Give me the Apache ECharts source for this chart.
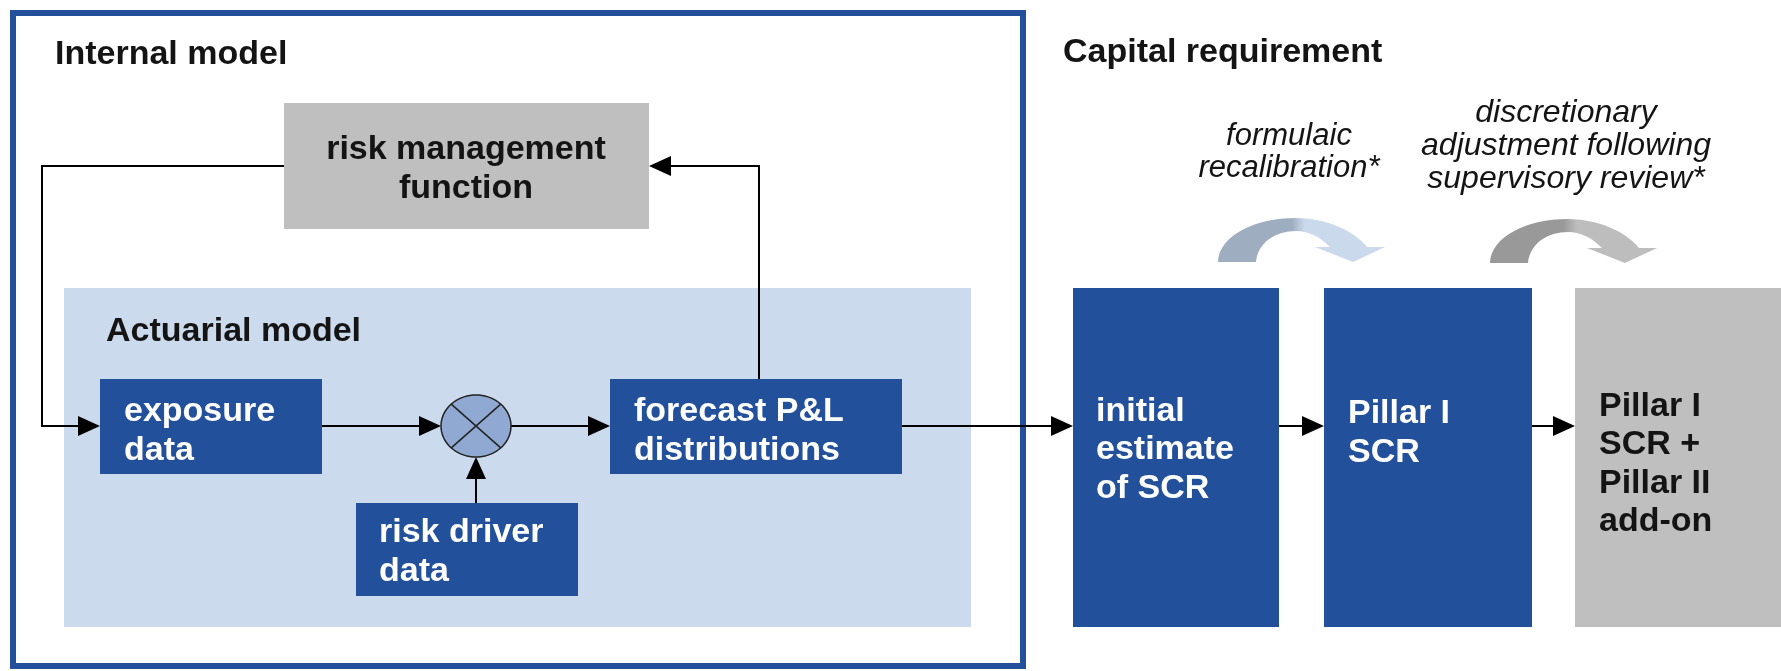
<!DOCTYPE html>
<html>
<head>
<meta charset="utf-8">
<title>Internal model and capital requirement</title>
<script src="https://cdn.jsdelivr.net/npm/echarts@6/dist/echarts.min.js"></script>
<style>
	html, body {margin: 0; padding: 0; background: #fff;}
	#chart {width: 1781px; height: 671px;}
</style>
</head>
<body>
<div id="chart"></div>
<script>
var W = 1781, H = 671;

// 文字与流程
var sectionTitles = ['Internal model', 'Actuarial model', 'Capital requirement'];
var boxIds = ['risk', 'exposure', 'driver', 'forecast', 'initial', 'pillar1', 'addon'];
var boxLabels = ['risk management\nfunction', 'exposure\ndata', 'risk driver\ndata', 'forecast P&L\ndistributions',
	'initial\nestimate\nof SCR', 'Pillar I\nSCR', 'Pillar I\nSCR +\nPillar II\nadd-on'];
var adjustNotes = ['formulaic\nrecalibration*', 'discretionary\nadjustment following\nsupervisory review*'];
var flowFrom = ['risk', 'forecast', 'exposure', 'driver', 'mult', 'forecast', 'initial', 'pillar1'];
var flowTo = ['exposure', 'risk', 'mult', 'mult', 'forecast', 'initial', 'pillar1', 'addon'];

var BLUE = '#22509a', GRAY = '#bfbfbf', LIGHT = '#cbdaed', INK = '#141414';
var FONT = '"Liberation Sans", Arial, Helvetica, sans-serif';

// 版面位置 (像素坐标)
var layout = {
	frame: [13, 13, 1023, 666],
	actuarial: [64, 288, 971, 627],
	titles: [[55, 55], [106, 332], [1063, 53]],
	boxes: {
		risk: [284, 103, 649, 229],
		exposure: [100, 379, 322, 474],
		driver: [356, 503, 578, 596],
		forecast: [610, 379, 902, 474],
		initial: [1073, 288, 1279, 627],
		pillar1: [1324, 288, 1532, 627],
		addon: [1575, 288, 1781, 627]
	},
	boxText: {
		risk: [466, 169, 'center'],
		exposure: [124, 431],
		driver: [379, 552],
		forecast: [634, 431],
		initial: [1096, 450],
		pillar1: [1348, 433],
		addon: [1599, 464]
	},
	mult: [476, 426, 35, 31],
	routes: {
		'risk>exposure': [[284, 166], [42, 166], [42, 426], [100, 426]],
		'forecast>risk': [[759, 379], [759, 166], [649, 166]],
		'exposure>mult': [[322, 426], [441, 426]],
		'driver>mult': [[476, 503], [476, 457]],
		'mult>forecast': [[511, 426], [610, 426]],
		'forecast>initial': [[902, 426], [1073, 426]],
		'initial>pillar1': [[1279, 426], [1324, 426]],
		'pillar1>addon': [[1532, 426], [1575, 426]]
	},
	notes: [[1289, 152, 31], [1566, 146, 32]],
	bends: [[1218, 262], [1490, 263]],
	bendColors: [['#9fadc1', '#cad9ec'], ['#999999', '#bdbdbd']]
};

function rectOf(api, r) {
	var a = api.coord([r[0], r[1]]), b = api.coord([r[2], r[3]]);
	return {x: a[0], y: a[1], width: b[0] - a[0], height: b[1] - a[1]};
}

function renderPanel(params, api) {
	var r = rectOf(api, params.dataIndex === 0 ? layout.frame : layout.actuarial);
	if (params.dataIndex === 0) {
		return {type: 'rect', shape: r, style: {fill: null, stroke: BLUE, lineWidth: 6}};
	}
	return {type: 'rect', shape: r, style: {fill: LIGHT}};
}

function renderBox(params, api) {
	var id = boxIds[params.dataIndex];
	var grayBox = id === 'risk' || id === 'addon';
	var t = layout.boxText[id];
	var p = api.coord([t[0], t[1]]);
	return {
		type: 'group',
		children: [
			{type: 'rect', shape: rectOf(api, layout.boxes[id]), style: {fill: grayBox ? GRAY : BLUE}},
			{type: 'text', x: p[0], y: p[1], style: {
				text: boxLabels[params.dataIndex], fill: grayBox ? INK : '#fff',
				font: 'bold 34px ' + FONT, lineHeight: 38.5,
				align: t[2] || 'left', verticalAlign: 'middle'
			}}
		]
	};
}

function renderMult(params, api) {
	var m = layout.mult, c = api.coord([m[0], m[1]]);
	var pts = [];
	for (var i = 0; i < 72; i++) {
		var a = i / 72 * Math.PI * 2;
		pts.push([c[0] + m[2] * Math.cos(a), c[1] + m[3] * Math.sin(a)]);
	}
	var dx = m[2] * Math.SQRT1_2, dy = m[3] * Math.SQRT1_2;
	return {
		type: 'group',
		children: [
			{type: 'polygon', shape: {points: pts}, style: {fill: '#8fa9d2', stroke: '#222', lineWidth: 1.5}},
			{type: 'line', shape: {x1: c[0] - dx, y1: c[1] - dy, x2: c[0] + dx, y2: c[1] + dy}, style: {stroke: '#222', lineWidth: 1.5}},
			{type: 'line', shape: {x1: c[0] - dx, y1: c[1] + dy, x2: c[0] + dx, y2: c[1] - dy}, style: {stroke: '#222', lineWidth: 1.5}}
		]
	};
}

function renderFlow(params, api) {
	var key = flowFrom[params.dataIndex] + '>' + flowTo[params.dataIndex];
	var pts = layout.routes[key].map(function(p) { return api.coord(p); });
	var n = pts.length, tip = pts[n - 1], prev = pts[n - 2];
	var len = Math.sqrt(Math.pow(tip[0] - prev[0], 2) + Math.pow(tip[1] - prev[1], 2));
	var ux = (tip[0] - prev[0]) / len, uy = (tip[1] - prev[1]) / len;
	var L = 22, hw = 10;
	var back = [tip[0] - ux * L, tip[1] - uy * L];
	var line = pts.slice(0, n - 1).concat([[tip[0] - ux * L * 0.6, tip[1] - uy * L * 0.6]]);
	return {
		type: 'group',
		children: [
			{type: 'polyline', shape: {points: line}, style: {stroke: '#000', lineWidth: 2, fill: null}},
			{type: 'polygon', shape: {points: [tip, [back[0] - uy * hw, back[1] + ux * hw], [back[0] + uy * hw, back[1] - ux * hw]]},
				style: {fill: '#000'}}
		]
	};
}

function renderNote(params, api) {
	var i = params.dataIndex;
	var t = layout.notes[i], p = api.coord([t[0], t[1]]);
	var o = api.coord(layout.bends[i]);
	var x = o[0], y = o[1];
	function P(a, b) { return (x + a) + ' ' + (y + b); }
	var d = 'M' + P(0, 0) +
		' C' + P(1, -27) + ' ' + P(38, -44) + ' ' + P(77, -44) +
		' C' + P(108, -44) + ' ' + P(135, -32) + ' ' + P(149, -15) +
		' L' + P(167, -15) + ' L' + P(135, 0) + ' L' + P(97, -15) + ' L' + P(112, -15) +
		' C' + P(101, -26) + ' ' + P(90, -31) + ' ' + P(78, -31) +
		' C' + P(58, -31) + ' ' + P(40, -20) + ' ' + P(38, 0) + ' Z';
	var cols = layout.bendColors[i];
	return {
		type: 'group',
		children: [
			{type: 'text', x: p[0], y: p[1], style: {
				text: adjustNotes[i], fill: INK, font: 'italic ' + t[2] + 'px ' + FONT,
				lineHeight: t[2] + 1, align: 'center', verticalAlign: 'middle'
			}},
			{type: 'path', shape: {pathData: d}, style: {
				fill: new echarts.graphic.LinearGradient(0, 0, 1, 0, [
					{offset: 0, color: cols[0]}, {offset: 0.44, color: cols[0]},
					{offset: 0.52, color: cols[1]}, {offset: 1, color: cols[1]}
				])
			}}
		]
	};
}

function renderTitle(params, api) {
	var t = layout.titles[params.dataIndex], p = api.coord(t);
	return {type: 'text', x: p[0], y: p[1], style: {
		text: sectionTitles[params.dataIndex], fill: INK, font: 'bold 34px ' + FONT,
		align: 'left', verticalAlign: 'middle'
	}};
}

function idx(arr) {
	return arr.map(function(v, i) { return [i]; });
}

var myChart = echarts.init(document.getElementById('chart'));
var option = {
	backgroundColor: '#fff',
	animation: false,
	grid: {left: 0, right: 0, top: 0, bottom: 0},
	xAxis: {type: 'value', min: 0, max: W, show: false},
	yAxis: {type: 'value', min: 0, max: H, inverse: true, show: false},
	series: [
		{type: 'custom', silent: true, clip: false, renderItem: renderPanel, data: [[0], [1]], z: 1},
		{type: 'custom', silent: true, clip: false, renderItem: renderFlow, data: idx(flowFrom), z: 2},
		{type: 'custom', silent: true, clip: false, renderItem: renderBox, data: idx(boxIds), z: 3},
		{type: 'custom', silent: true, clip: false, renderItem: renderMult, data: [[0]], z: 4},
		{type: 'custom', silent: true, clip: false, renderItem: renderNote, data: idx(adjustNotes), z: 4},
		{type: 'custom', silent: true, clip: false, renderItem: renderTitle, data: idx(sectionTitles), z: 4}
	]
};
myChart.setOption(option);
</script>
</body>
</html>
